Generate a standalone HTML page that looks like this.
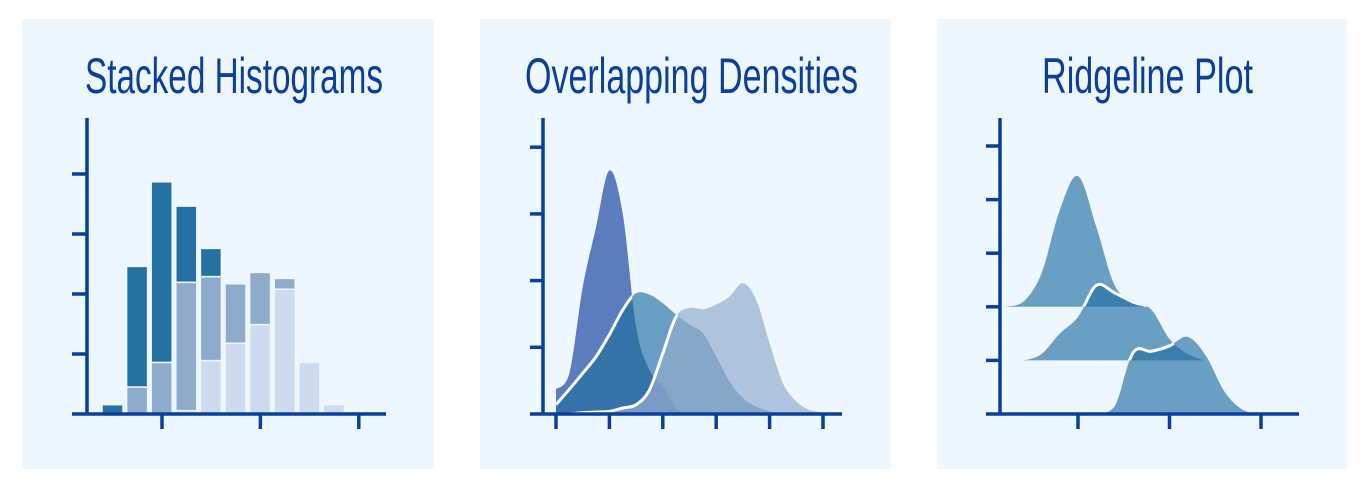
<!DOCTYPE html>
<html><head><meta charset="utf-8">
<style>
html,body{margin:0;padding:0;background:#fff;}
svg{display:block;}
text{font-family:"Liberation Sans",sans-serif;fill:#0b3f9c;}
</style></head>
<body>
<svg id="chart" width="1368" height="494" viewBox="0 0 1368 494" xmlns="http://www.w3.org/2000/svg">
<defs id="defs"></defs>
<g id="p1">
  <rect x="22" y="19" width="412" height="450" fill="#eef6fe"/>
  <text x="85" y="93" font-size="50" textLength="298" lengthAdjust="spacingAndGlyphs">Stacked Histograms</text>
</g>
<g id="p2">
  <rect x="480" y="19" width="411" height="450" fill="#eef6fe"/>
  <text x="525" y="93" font-size="50" textLength="333" lengthAdjust="spacingAndGlyphs">Overlapping Densities</text>
</g>
<g id="p3">
  <rect x="937" y="19" width="410" height="450" fill="#eef6fe"/>
  <text x="1042" y="93" font-size="50" textLength="211" lengthAdjust="spacingAndGlyphs">Ridgeline Plot</text>
</g>
</svg>
<script>
// ---- Stacked histogram data (units; one y tick = 10) ----
const histBins = [0,1,2,3,4,5,6,7,8,9,10];
const histLight = [0,0,0,0.55,8.9,11.8,14.9,20.8,8.6,1.55,0.45];
const histMid   = [0,4.5,8.6,21.4,14.0,9.9,8.7,1.8,0,0,0];
const histDark  = [1.55,20.1,30.1,12.7,4.7,0,0,0,0,0,0];
const histYTicks = [10,20,30,40];
const histXTicks = [2.5,6.5,10.5];

// ---- Overlapping densities (x grid step 0.25 from 0 to 5) ----
const densX = [0,0.25,0.5,0.75,1,1.25,1.5,1.75,2,2.25,2.5,2.75,3,3.25,3.5,3.75,4,4.25,4.5,4.75,5];
const densA = [0.37,0.61,1.9,2.8,3.65,3.0,1.3,0.66,0.41,0.09,0,0,0,0,0,0,0,0,0,0,0];
const densB = [0.14,0.37,0.61,0.86,1.19,1.56,1.81,1.79,1.66,1.49,1.34,1.21,0.86,0.49,0.24,0.11,0.04,0,0,0,0];
const densC = [0,0,0.02,0.03,0.04,0.09,0.14,0.36,0.91,1.46,1.59,1.57,1.64,1.76,1.96,1.71,1.06,0.46,0.19,0.06,0.02];
const densYTicks = [1,2,3,4];
const densXTicks = [0,1,2,3,4,5];

// ---- Ridgeline (x grid step 0.2 from 0.2 to 3.4) ----
const ridgeX = [0.2,0.4,0.6,0.8,1.0,1.2,1.4,1.6,1.8,2.0,2.2,2.4,2.6,2.8,3.0,3.2,3.4];
const ridgeTop    = [0,0.09,0.62,1.80,2.44,1.49,0.40,0.12,0,0,0,0,0,0,0,0,0];
const ridgeMiddle = [0,0,0.12,0.50,0.81,1.40,1.26,1.09,0.95,0.40,0.12,0,0,0,0,0,0];
const ridgeBottom = [0,0,0,0,0,0,0.14,1.14,1.17,1.27,1.44,1.08,0.42,0.08,0.01,0,0];
const ridgeBaselines = [2,1,0];
const ridgeYTicks = [1,2,3,4,5];
const ridgeXTicks = [1,2,3];

const NS = "http://www.w3.org/2000/svg";
const AX = "#0b3f9c";
function mk(tag, attrs, parent){const e=document.createElementNS(NS,tag);for(const k in attrs)e.setAttribute(k,attrs[k]);parent.appendChild(e);return e;}
function smooth(pts){
  let d="M"+pts[0][0]+","+pts[0][1];
  for(let i=0;i<pts.length-1;i++){
    const p0=pts[Math.max(0,i-1)],p1=pts[i],p2=pts[i+1],p3=pts[Math.min(pts.length-1,i+2)];
    const c1x=p1[0]+(p2[0]-p0[0])/6,c1y=p1[1]+(p2[1]-p0[1])/6;
    const c2x=p2[0]-(p3[0]-p1[0])/6,c2y=p2[1]-(p3[1]-p1[1])/6;
    d+=" C"+c1x+","+Math.min(c1y,Math.max(p1[1],p2[1]))+" "+c2x+","+Math.min(c2y,Math.max(p1[1],p2[1]))+" "+p2[0]+","+p2[1];
  }
  return d;
}
function areaPath(xs,ys,sx,sy,base){
  const pts=xs.map((x,i)=>[sx(x),sy(ys[i])]);
  const line=smooth(pts);
  return {line, area: line+" L"+pts[pts.length-1][0]+","+base+" L"+pts[0][0]+","+base+" Z"};
}
function axes(g,x0,x1,yTop,base,yAxisX,yTickYs,xTickXs){
  const a=mk("g",{},g);
  
  
  const ya=mk("line",{x1:yAxisX,y1:yTop,x2:yAxisX,y2:base+1.5,stroke:AX,"stroke-width":3.5},a);
  
  
  const xa=mk("line",{x1:x0,y1:base,x2:x1,y2:base,stroke:AX,"stroke-width":3.5},a);
  
  
  yTickYs.forEach(y=>{const t=mk("line",{x1:x0,y1:y,x2:yAxisX,y2:y,stroke:AX,"stroke-width":3.5},a);
    
    });
  xTickXs.forEach(x=>{const t=mk("line",{x1:x,y1:base,x2:x,y2:base+15,stroke:AX,"stroke-width":3.5},a);
    
    });
}
const defs=document.getElementById("defs");

// ===== Panel 1 =====
(function(){
  const g=document.getElementById("p1");
  const base=414, step=24.6, x0bin=102;
  const sx=b=>x0bin+b*step;
  const sy=v=>base-v*6;
  const seriesList=[[histLight,"#ccdcee","bar-light"],[histMid,"#8eabcc","bar-mid"],[histDark,"#2571a2","bar-dark"]];
  histBins.forEach((b,i)=>{
    let cum=0;
    seriesList.forEach(([arr,col,name])=>{
      const v=arr[i]; if(v<=0) return;
      const r=mk("rect",{x:sx(b),y:sy(cum+v),width:21,height:(sy(cum)-sy(cum+v)),fill:col,stroke:"#eef6fe","stroke-width":1.5},g);
      
      
      cum+=v;
    });
  });
  axes(g,72,386,118,414,87,histYTicks.map(sy),histXTicks.map(b=>sx(b)-1.5));
})();

// ===== Panel 2 =====
(function(){
  const g=document.getElementById("p2");
  const base=414;
  const sx=v=>556+v*53.4;
  const sy=v=>base-v*66.7;
  const A=areaPath(densX,densA,sx,sy,base), B=areaPath(densX,densB,sx,sy,base), C=areaPath(densX,densC,sx,sy,base);
  ["A","B","C"].forEach((n,i)=>{const cp=mk("clipPath",{id:"clip"+n},defs);mk("path",{d:[A,B,C][i].area},cp);});
  const fills=[[A.area,"#5b7dbd","density-a",null],[B.area,"#6a9fc4","density-b",null],[C.area,"#adc4dc","density-c",null],
    [A.area,"#3373a8","overlap-a-b","clipB"],[B.area,"#85a8c8","overlap-b-c","clipC"],[A.area,"#7a9cc4","overlap-a-c","clipC"]];
  fills.forEach(([d,col,name,clip])=>{
    const p=mk("path",{d:d,fill:col},g);
    if(clip)p.setAttribute("clip-path","url(#"+clip+")");
    
    
  });
  const s1=mk("path",{d:B.line,fill:"none",stroke:"#fff","stroke-width":3,"clip-path":"url(#clipA)"},g);
  
  
  const s2=mk("path",{d:C.line,fill:"none",stroke:"#fff","stroke-width":3,"clip-path":"url(#clipB)"},g);
  
  
  axes(g,530,842,118,414,543,densYTicks.map(sy),densXTicks.map(sx));
})();

// ===== Panel 3 =====
(function(){
  const g=document.getElementById("p3");
  const base=414, unit=53.6;
  const sx=v=>986.5+v*91.5;
  const ridges=[ridgeTop,ridgeMiddle,ridgeBottom];
  const paths=ridges.map((arr,i)=>{
    const b=base-ridgeBaselines[i]*unit;
    return areaPath(ridgeX,arr,sx,v=>b-v*unit,b);
  });
  paths.forEach((p,i)=>{const cp=mk("clipPath",{id:"rclip"+i},defs);mk("path",{d:p.area},cp);});
  paths.forEach((p,i)=>{
    const f=mk("path",{d:p.area,fill:"#6a9fc4"},g);
    
    
    if(i>0){
      const o=mk("path",{d:paths[i-1].area,fill:"#3a7fad","clip-path":"url(#rclip"+i+")"},g);
      
      
      const s=mk("path",{d:p.line,fill:"none",stroke:"#fff","stroke-width":3,"clip-path":"url(#rclip"+(i-1)+")"},g);
      
      
    }
  });
  axes(g,986,1299,118,414,1000,ridgeYTicks.map(v=>base-v*unit),ridgeXTicks.map(sx));
})();
</script>
</body></html>
